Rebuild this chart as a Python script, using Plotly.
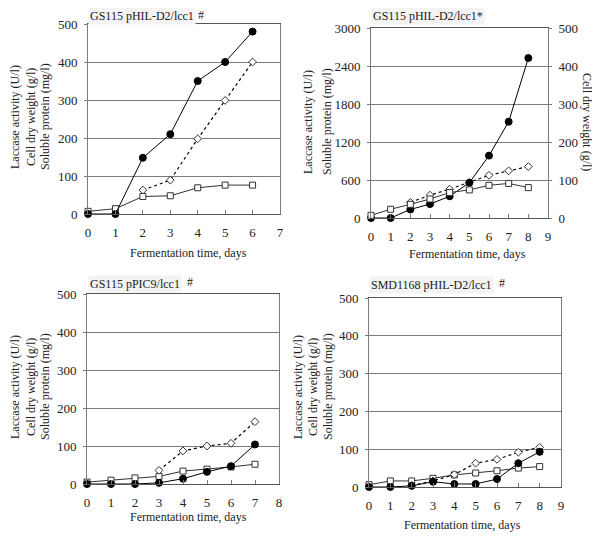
import plotly.graph_objects as go

# ---------------- data ----------------
# Panel A: GS115 pHIL-D2/lcc1 #
days_A = [0, 1, 2, 3, 4, 5, 6]
laccase_A = [0, 0, 148, 210, 350, 400, 480]
cdw_A = [7, 14, 46, 48, 69, 76, 76]
protein_days_A = [2, 3, 4, 5, 6]
protein_A = [63, 89, 198, 299, 400]

# Panel B: GS115 pHIL-D2/lcc1*  (cell dry weight on right axis)
days_B = [0, 1, 2, 3, 4, 5, 6, 7, 8]
laccase_B = [0, 0, 135, 220, 343, 556, 985, 1520, 2526]
cdw_B = [7, 23, 36, 50, 67, 74, 86, 91, 80]
protein_days_B = [2, 3, 4, 5, 6, 7, 8]
protein_B = [247, 360, 455, 560, 675, 745, 812]

# Panel C: GS115 pPIC9/lcc1 #
days_C = [0, 1, 2, 3, 4, 5, 6, 7]
laccase_C = [0, 0, 0, 3, 14, 32, 47, 104]
cdw_C = [5, 10, 16, 20, 34, 39, 45, 52]
protein_days_C = [3, 4, 5, 6, 7]
protein_C = [36, 87, 100, 107, 164]

# Panel D: SMD1168 pHIL-D2/lcc1 #
days_D = [0, 1, 2, 3, 4, 5, 6, 7, 8]
laccase_D = [0, 0, 3, 14, 8, 8, 21, 63, 93]
cdw_D = [6, 16, 16, 23, 32, 37, 43, 50, 54]
protein_days_D = [2, 3, 4, 5, 6, 7, 8]
protein_D = [4, 16, 33, 63, 73, 92, 105]

titles = ["GS115 pHIL-D2/lcc1", "GS115 pHIL-D2/lcc1*",
          "GS115 pPIC9/lcc1", "SMD1168 pHIL-D2/lcc1"]
title_marks = ["#", "", "#", "#"]
x_title = "Fermentation time, days"
y_lines_3 = ["Laccase activity (U/l)", "Cell dry weight (g/l)", "Soluble protein (mg/l)"]
y_lines_B = ["Laccase activity (U/l)", "Soluble protein (mg/l)"]
y_right_B = "Cell dry weight (g/l)"

# ---------------- style ----------------
FONT = "Liberation Serif, Times New Roman, serif"
GRID = "#7a7a7a"
OFF = 8                     # page body margin
W, H = 600 - OFF, 540 - OFF


def px_x(p):
    return (p - OFF) / W


def px_y(p):
    return 1 - (p - OFF) / H


fig = go.Figure()


def add_series(xs, ys, xa, ya, kind):
    if kind == "lac":
        marker = dict(symbol="circle", size=7, color="black", line=dict(color="black", width=1))
        line = dict(color="black", width=1)
    elif kind == "cdw":
        marker = dict(symbol="square", size=6, color="white", line=dict(color="#333", width=1))
        line = dict(color="#333", width=1)
    else:
        marker = dict(symbol="diamond", size=6, color="white", line=dict(color="#333", width=1))
        line = dict(color="black", width=1.2, dash="dot")
    fig.add_trace(go.Scatter(x=xs, y=ys, xaxis=xa, yaxis=ya, mode="lines+markers",
                             marker=marker, line=line, cliponaxis=False, showlegend=False))


add_series(days_A, cdw_A, "x", "y", "cdw")
add_series(protein_days_A, protein_A, "x", "y", "prot")
add_series(days_A, laccase_A, "x", "y", "lac")

add_series(days_B, cdw_B, "x2", "y3", "cdw")
add_series(protein_days_B, protein_B, "x2", "y2", "prot")
add_series(days_B, laccase_B, "x2", "y2", "lac")

add_series(days_C, cdw_C, "x3", "y4", "cdw")
add_series(protein_days_C, protein_C, "x3", "y4", "prot")
add_series(days_C, laccase_C, "x3", "y4", "lac")

add_series(days_D, cdw_D, "x4", "y5", "cdw")
add_series(protein_days_D, protein_D, "x4", "y5", "prot")
add_series(days_D, laccase_D, "x4", "y5", "lac")

tickfont = dict(family=FONT, size=13, color="#222")


def xaxis(dom, rng, anchor):
    return dict(domain=dom, range=rng, dtick=1, tick0=0, anchor=anchor,
                showline=True, linecolor="#555", linewidth=1, mirror=True,
                ticks="inside", ticklen=4, tickcolor="#777", showgrid=False,
                zeroline=False, tickfont=tickfont, ticklabelstandoff=6,
                automargin=False, fixedrange=True)


def yaxis(dom, rng, dtick, anchor, side="left", grid=True, overlaying=None, mirror=True):
    d = dict(domain=dom, range=rng, dtick=dtick, tick0=0, anchor=anchor, side=side,
             showline=True, linecolor=GRID, linewidth=1, mirror=mirror,
             ticks="outside", ticklen=3, tickcolor=GRID, showgrid=grid,
             gridcolor=GRID, gridwidth=1, zeroline=False, tickfont=tickfont,
             ticklabelstandoff=4, automargin=False, fixedrange=True)
    if overlaying:
        d["overlaying"] = overlaying
    return d


dA_x = [px_x(88), px_x(280)]
dA_y = [px_y(214), px_y(24)]
dB_x = [px_x(371), px_x(548)]
dB_y = [px_y(218), px_y(28)]
dC_x = [px_x(87), px_x(279)]
dC_y = [px_y(484), px_y(294)]
dD_x = [px_x(369), px_x(561)]
dD_y = [px_y(487), px_y(298)]

fig.update_layout(
    template="none",
    width=W, height=H, margin=dict(l=0, r=0, t=0, b=0, autoexpand=False),
    paper_bgcolor="white", plot_bgcolor="white",
    font=dict(family=FONT, size=12, color="#222"),
    xaxis=xaxis(dA_x, [0, 7], "y"),
    yaxis=yaxis(dA_y, [0, 500], 100, "x"),
    xaxis2=xaxis(dB_x, [0, 9], "y2"),
    yaxis2=yaxis(dB_y, [0, 3000], 600, "x2", mirror=False),
    yaxis3=yaxis(dB_y, [0, 500], 100, "x2", side="right", grid=False, overlaying="y2", mirror=False),
    xaxis3=xaxis(dC_x, [0, 8], "y4"),
    yaxis4=yaxis(dC_y, [0, 500], 100, "x3"),
    xaxis4=xaxis(dD_x, [0, 9], "y5"),
    yaxis5=yaxis(dD_y, [0, 500], 100, "x4"),
)

ann = []
# panel titles (text + raised "#" mark)
title_pos = [(88, 15.5), (371, 15.5), (88, 284), (369, 285)]
mark_pos = [(196, 15), (0, 0), (185, 281.5), (497, 282.5)]
for t, m, (x, y), (mx, my) in zip(titles, title_marks, title_pos, mark_pos):
    ann.append(dict(text=t, x=px_x(x), y=px_y(y),
                    xref="paper", yref="paper",
                    xanchor="left", yanchor="middle", showarrow=False,
                    font=dict(family=FONT, size=12, color="#222"), bgcolor="#f3f3f3"))
    if m:
        ann.append(dict(text=m, x=px_x(mx), y=px_y(my), xref="paper", yref="paper",
                        xanchor="left", yanchor="middle", showarrow=False,
                        font=dict(family=FONT, size=12, color="#222")))
# x titles
xt_pos = [(188, 253), (468, 254), (188, 517), (463, 525)]
for (x, y) in xt_pos:
    ann.append(dict(text=x_title, x=px_x(x), y=px_y(y), xref="paper", yref="paper",
                    xanchor="center", yanchor="middle", showarrow=False,
                    font=dict(family=FONT, size=12, color="#222")))


def ytitle(text, x, y, angle=-90):
    ann.append(dict(text=text, x=px_x(x), y=px_y(y), xref="paper", yref="paper",
                    xanchor="center", yanchor="middle", showarrow=False, textangle=angle,
                    font=dict(family=FONT, size=12, color="#222")))


for txt, x in zip(y_lines_3, [15, 31, 45]):
    ytitle(txt, x, 117)
for txt, x in zip(y_lines_B, [308, 327]):
    ytitle(txt, x, 122)
ytitle(y_right_B, 587, 122, angle=90)
for txt, x in zip(y_lines_3, [15, 31, 45]):
    ytitle(txt, x, 387)
for txt, x in zip(y_lines_3, [298, 313, 328]):
    ytitle(txt, x, 387)

fig.update_layout(annotations=ann)
fig.write_html("out.html")
